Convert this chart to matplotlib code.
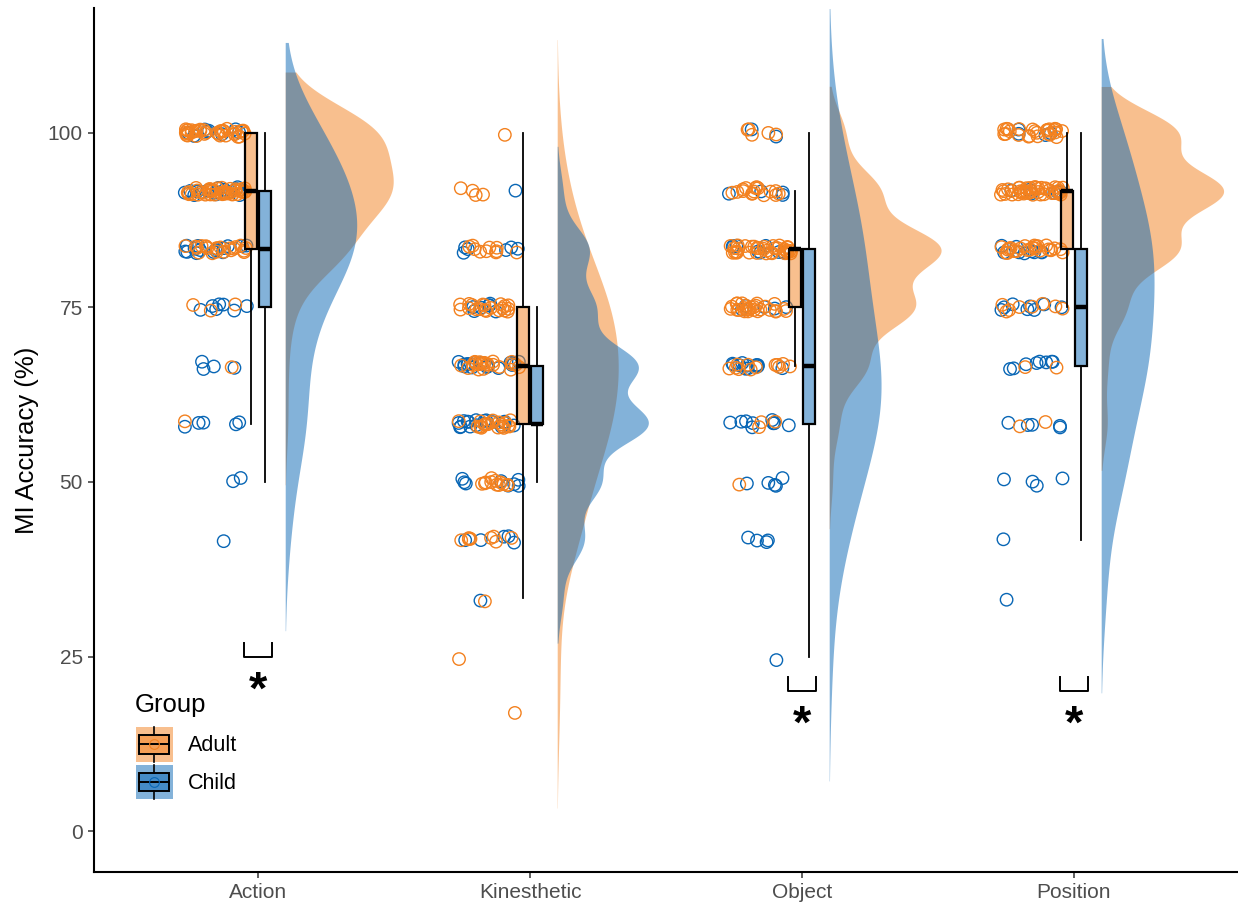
import numpy as np
import matplotlib
matplotlib.use('Agg')
import matplotlib.pyplot as plt
from matplotlib.colors import to_rgba
from matplotlib.legend_handler import HandlerBase
from matplotlib.lines import Line2D
from matplotlib.patches import Patch, Rectangle

plt.rcParams['font.family'] = ['Liberation Sans', 'DejaVu Sans']

# MI accuracy levels (k correct out of 12 trials, in %)
levels = np.arange(2, 13) * 100 / 12

conditions = ['Action', 'Kinesthetic', 'Object', 'Position']
groups = ['Adult', 'Child']

# number of participants scoring at each level above (17% ... 100%)
action_adult = [0, 0, 0, 0, 0, 1, 1, 3, 22, 38, 35]
action_child = [0, 0, 0, 1, 2, 5, 4, 7, 16, 14, 8]
kinesthetic_adult = [1, 1, 1, 8, 12, 20, 22, 20, 10, 4, 1]
kinesthetic_child = [0, 0, 1, 5, 8, 17, 15, 7, 6, 1, 0]
object_adult = [0, 0, 0, 0, 1, 3, 12, 27, 36, 16, 5]
object_child = [0, 1, 0, 4, 5, 10, 11, 5, 8, 4, 2]
position_adult = [0, 0, 0, 0, 0, 2, 2, 8, 25, 40, 25]
position_child = [0, 0, 1, 1, 4, 5, 8, 8, 9, 6, 4]

counts = {
    'Action': (action_adult, action_child),
    'Kinesthetic': (kinesthetic_adult, kinesthetic_child),
    'Object': (object_adult, object_child),
    'Position': (position_adult, position_child),
}

# significant group differences
sig_conditions = ['Action', 'Object', 'Position']
sig_bracket_y = [27, 22, 22]

colors = {'Adult': '#F3811F', 'Child': '#0866B5'}
bw_adjust = {'Adult': 1.5, 'Child': 1.3}


def kde(v, adjust, cut=2):
    v = np.asarray(v, float)
    n = len(v)
    q75, q25 = np.percentile(v, [75, 25])
    lo = min(v.std(ddof=1), (q75 - q25) / 1.34)
    bw = 0.9 * lo * n ** -0.2 * adjust
    grid = np.linspace(v.min() - cut * bw, v.max() + cut * bw, 512)
    z = (grid[:, None] - v[None, :]) / bw
    dens = np.exp(-0.5 * z ** 2).sum(axis=1) / (n * bw * np.sqrt(2 * np.pi))
    return grid, dens


class BoxKey(HandlerBase):
    def create_artists(self, legend, orig_handle, xd, yd, width, height, fontsize, trans):
        c = orig_handle.get_facecolor()
        x0, y0 = -xd, -yd
        xc, yc = x0 + width / 2, y0 + height / 2
        bg = Rectangle((x0, y0), width, height, facecolor=to_rgba(c, 0.5),
                       edgecolor='none', transform=trans)
        bx = Rectangle((x0 + 0.09 * width, y0 + 0.23 * height), 0.82 * width, 0.54 * height,
                       facecolor=to_rgba(c, 0.5), edgecolor='black', lw=1.4, transform=trans)
        w1 = Line2D([xc, xc], [y0, y0 + 0.23 * height], color='black', lw=1.2, transform=trans)
        w2 = Line2D([xc, xc], [y0 + 0.77 * height, y0 + height], color='black', lw=1.2, transform=trans)
        med = Line2D([x0 + 0.09 * width, x0 + 0.91 * width], [yc, yc], color='black', lw=1.4,
                     transform=trans)
        pt = Line2D([xc], [yc], marker='o', mfc='none', mec=c, ms=7, mew=0.8, transform=trans)
        return [bg, bx, w1, w2, med, pt]


fig = plt.figure(figsize=(12.38, 9.11), dpi=100)
ax = fig.add_axes([94 / 1238, 39 / 911, 1 - 94 / 1238, 864 / 911])

rng = np.random.default_rng(7)

# expand counts into individual scores
scores = {}
for cond in conditions:
    for g, cnt in zip(groups, counts[cond]):
        scores[(cond, g)] = np.repeat(levels, cnt)

dens = {k: kde(v, bw_adjust[k[1]]) for k, v in scores.items()}
dmax = max(d.max() for _, d in dens.values())
half_width = 0.45

for i, cond in enumerate(conditions):
    pos = i + 1
    # half violins
    for g in groups:
        grid, d = dens[(cond, g)]
        ax.fill_betweenx(grid, pos + 0.1, pos + 0.1 + d / dmax * half_width,
                         color=colors[g], alpha=0.5, lw=0, zorder=1)
    # jittered raw scores
    for g in ['Child', 'Adult']:
        v = scores[(cond, g)]
        x = pos - 0.155 + rng.uniform(-0.115, 0.115, len(v))
        y = v + rng.uniform(-0.6, 0.6, len(v))
        ax.scatter(x, y, s=80, facecolors='none', edgecolors=colors[g], linewidths=1.0, zorder=2)
    # boxplots
    for g, off in zip(groups, [-0.026, 0.026]):
        bp = ax.boxplot([scores[(cond, g)]], positions=[pos + off], widths=0.044,
                        whis=1.5001, showfliers=False, showcaps=False, patch_artist=True,
                        boxprops=dict(facecolor=to_rgba(colors[g], 0.5), edgecolor='black', lw=1.6),
                        whiskerprops=dict(color='black', lw=1.3),
                        medianprops=dict(color='black', lw=3.2),
                        manage_ticks=False)
        for artist in bp['boxes'] + bp['whiskers'] + bp['medians']:
            artist.set_zorder(3)

# significance brackets
for cond, yb in zip(sig_conditions, sig_bracket_y):
    pos = conditions.index(cond) + 1
    ax.plot([pos - 0.051, pos - 0.051, pos + 0.051, pos + 0.051], [yb, yb - 2, yb - 2, yb],
            color='black', lw=1.4, zorder=3)
    ax.text(pos, yb - 2 - 6.7, '*', ha='center', va='baseline', fontsize=34,
            fontweight='bold', color='black')

ax.set_xlim(0.397, 4.603)
ax.set_ylim(-5.87, 117.9)
ax.set_xticks(range(1, 5))
ax.set_xticklabels(conditions)
ax.set_yticks([0, 25, 50, 75, 100])
ax.set_ylabel('MI Accuracy (%)', fontsize=18.5, labelpad=6)

for side in ['top', 'right']:
    ax.spines[side].set_visible(False)
for side in ['left', 'bottom']:
    ax.spines[side].set_linewidth(1.5)
ax.tick_params(length=4, width=1.1, color='#333333', labelcolor='#4D4D4D', labelsize=15, pad=4)

# legend: title as its own text, keys drawn as mini boxplots
fig.text(135 / 1238, (911 - 712) / 911, 'Group', fontsize=18.5, ha='left', va='baseline')
handles = [Patch(facecolor=colors[g]) for g in groups]
ax.legend(handles, groups, handler_map={Patch: BoxKey()},
          loc='upper left', bbox_to_anchor=(136 / 1238, (911 - 727) / 911),
          bbox_transform=fig.transFigure, frameon=False, fontsize=15.5,
          handlelength=1.7, handleheight=2.12, handletextpad=0.7, labelspacing=0.12,
          borderpad=0, borderaxespad=0)

fig.savefig('out.png', dpi=100)
